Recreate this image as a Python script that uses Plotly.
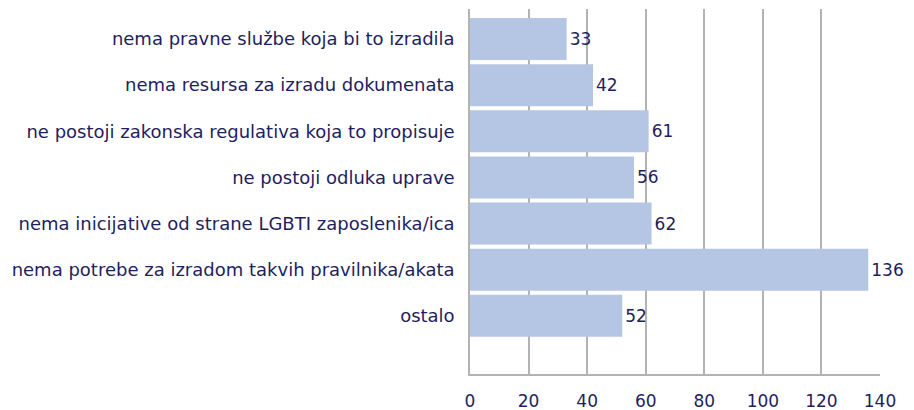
import plotly.graph_objects as go

categories = [
    "nema pravne službe koja bi to izradila",
    "nema resursa za izradu dokumenata",
    "ne postoji zakonska regulativa koja to propisuje",
    "ne postoji odluka uprave",
    "nema inicijative od strane LGBTI zaposlenika/ica",
    "nema potrebe za izradom takvih pravilnika/akata",
    "ostalo",
]
values = [33, 42, 61, 56, 62, 136, 52]
x_ticks = [0, 20, 40, 60, 80, 100, 120, 140]

navy = "#221e5e"
bar_color = "#b5c6e5"
grid = "#b3b3b3"

fig = go.Figure(
    go.Bar(
        y=categories,
        x=values,
        orientation="h",
        marker=dict(color=bar_color, line=dict(width=0)),
        width=0.91,
        text=[str(v) for v in values],
        textposition="outside",
        textfont=dict(color=navy, size=17, family="DejaVu Sans"),
        cliponaxis=False,
        hoverinfo="skip",
    )
)

# the page body adds an 8px margin, so the figure is 8px smaller than the window
fig.update_layout(
    width=906,
    height=402,
    margin=dict(l=462, r=34, t=1, b=36, autoexpand=False),
    paper_bgcolor="white",
    plot_bgcolor="white",
    showlegend=False,
    font=dict(family="DejaVu Sans", color=navy, size=17),
    xaxis=dict(
        range=[0, 140],
        tickvals=x_ticks,
        ticktext=[str(t) for t in x_ticks],
        showgrid=True,
        gridcolor=grid,
        gridwidth=1.5,
        zeroline=False,
        showline=True,
        linecolor=grid,
        linewidth=2,
        ticks="",
        tickfont=dict(size=17, color=navy),
        ticklabelstandoff=11,
        automargin=False,
    ),
    yaxis=dict(
        categoryorder="array",
        categoryarray=categories,
        range=[7.26, -0.65],
        showgrid=False,
        showline=True,
        linecolor=grid,
        linewidth=1.5,
        ticks="",
        tickfont=dict(size=18, color=navy),
        ticklabelstandoff=10,
        automargin=False,
    ),
)

fig.write_html("out.html")
